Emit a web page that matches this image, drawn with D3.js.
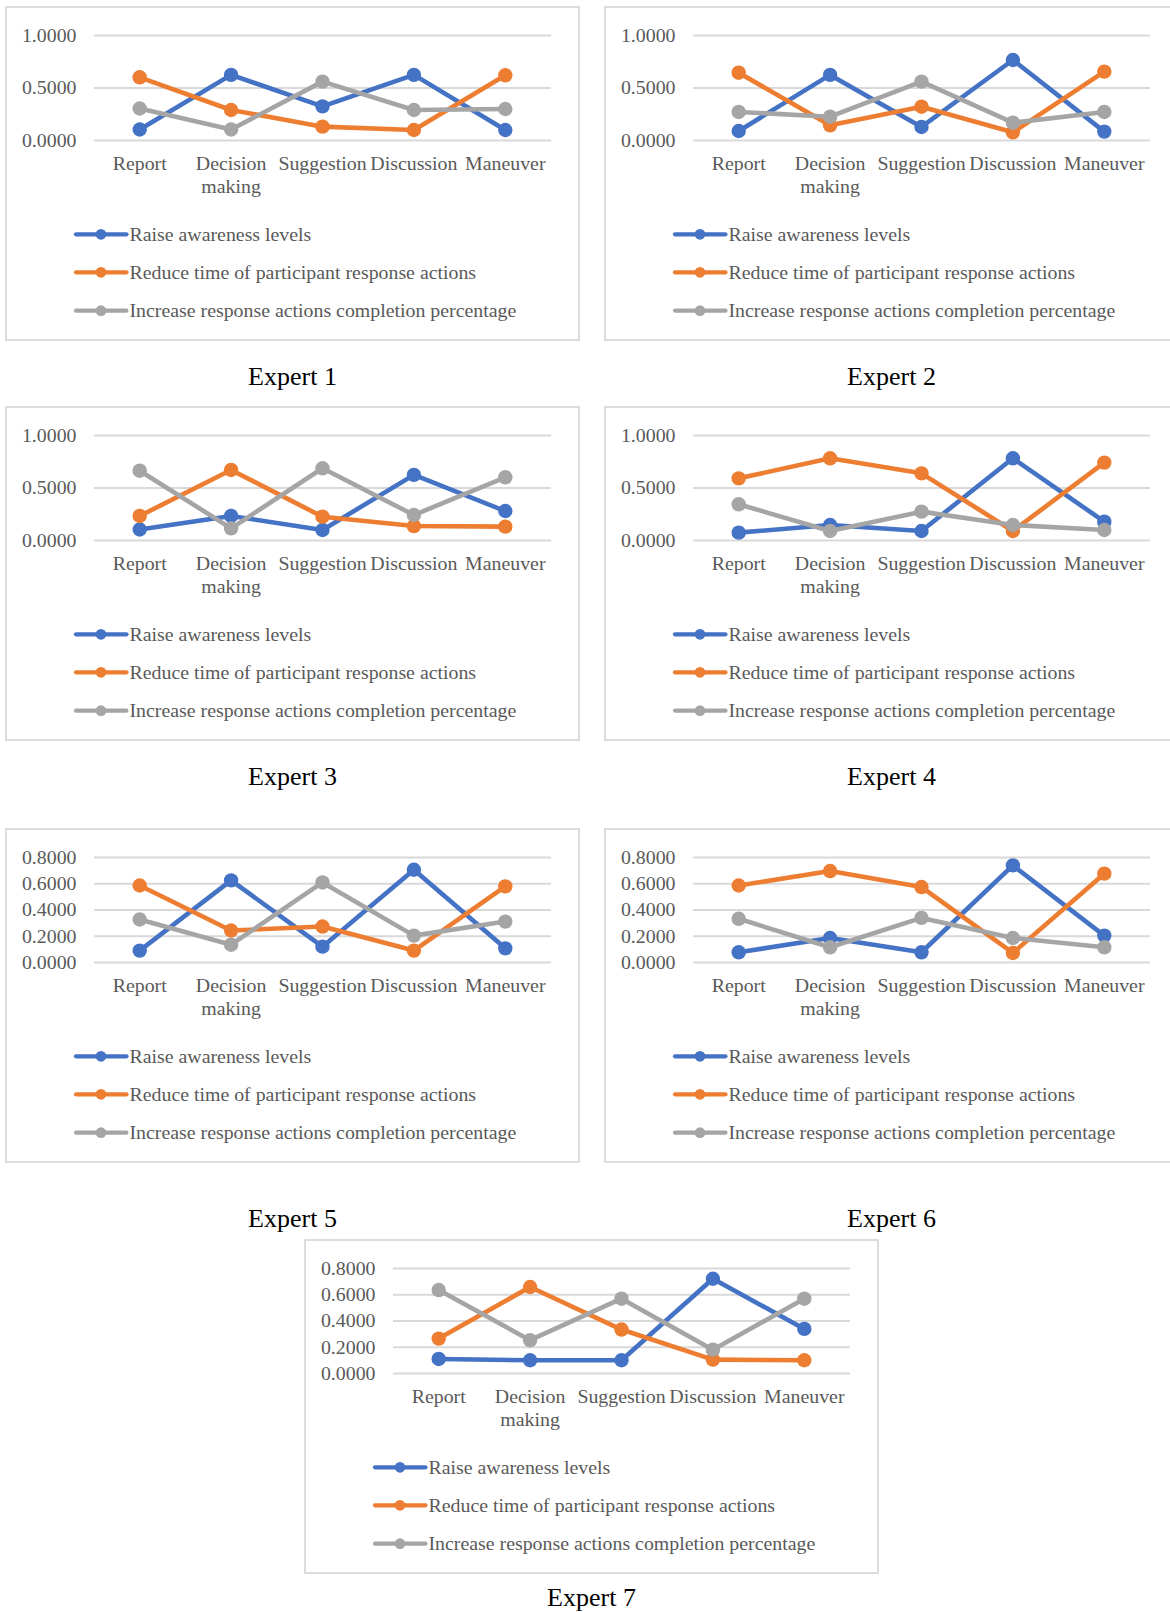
<!DOCTYPE html>
<html>
<head>
<meta charset="utf-8">
<script src="https://cdn.jsdelivr.net/npm/d3@7"></script>
<style>
  body { margin: 0; background: #fff; }
  svg { display: block; }
  text { font-family: "Liberation Serif", "Times New Roman", serif; }
</style>
</head>
<body>
<svg id="chart" width="1170" height="1612"></svg>
<script>
// Stage categories along the x axis
const categories = ["Report", "Decision making", "Suggestion", "Discussion", "Maneuver"];

// The three goals, in drawing order
const seriesNames = [
  "Raise awareness levels",
  "Reduce time of participant response actions",
  "Increase response actions completion percentage"
];
const seriesColors = ["#4472C4", "#ED7D31", "#A5A5A5"];

// Weights per expert: rows follow seriesNames, columns follow categories
const expert1 = [
  [0.100, 0.620, 0.320, 0.620, 0.095],
  [0.597, 0.286, 0.127, 0.095, 0.616],
  [0.300, 0.100, 0.556, 0.286, 0.295]
];
const expert2 = [
  [0.086, 0.620, 0.124, 0.762, 0.080],
  [0.641, 0.140, 0.317, 0.073, 0.651],
  [0.267, 0.222, 0.556, 0.165, 0.267]
];
const expert3 = [
  [0.100, 0.229, 0.095, 0.620, 0.276],
  [0.229, 0.667, 0.222, 0.133, 0.127],
  [0.660, 0.111, 0.683, 0.238, 0.597]
];
const expert4 = [
  [0.070, 0.143, 0.086, 0.778, 0.175],
  [0.587, 0.778, 0.635, 0.086, 0.737],
  [0.340, 0.086, 0.270, 0.143, 0.095]
];
const expert5 = [
  [0.087, 0.622, 0.117, 0.703, 0.104],
  [0.583, 0.240, 0.270, 0.087, 0.576],
  [0.324, 0.132, 0.606, 0.201, 0.308]
];
const expert6 = [
  [0.074, 0.183, 0.074, 0.736, 0.201],
  [0.583, 0.693, 0.571, 0.069, 0.673],
  [0.329, 0.112, 0.336, 0.183, 0.112]
];
const expert7 = [
  [0.107, 0.097, 0.097, 0.718, 0.336],
  [0.262, 0.655, 0.331, 0.102, 0.097],
  [0.632, 0.250, 0.566, 0.178, 0.566]
];

// Y tick values for the two axis scales in use
const ticksToOne = [0, 0.5, 1];
const ticksToEight = [0, 0.2, 0.4, 0.6, 0.8];

const panelTitles = ["Expert 1", "Expert 2", "Expert 3", "Expert 4", "Expert 5", "Expert 6", "Expert 7"];
const panelData = [expert1, expert2, expert3, expert4, expert5, expert6, expert7];
const panelTicks = [ticksToOne, ticksToOne, ticksToOne, ticksToOne, ticksToEight, ticksToEight, ticksToEight];

// Placement of each chart frame on the page
const layout = [
  { left: 6,   top: 7,    titleY: 378 },
  { left: 605, top: 7,    titleY: 378 },
  { left: 6,   top: 407,  titleY: 378 },
  { left: 605, top: 407,  titleY: 378 },
  { left: 6,   top: 829,  titleY: 398 },
  { left: 605, top: 829,  titleY: 398 },
  { left: 305, top: 1240, titleY: 365.5 }
];

const FRAME_W = 573, FRAME_H = 333;
const PLOT_L = 88, PLOT_R = 545, PLOT_T = 28, PLOT_B = 133;
const LABEL_GRAY = "#595959";
const GRID = "#d9d9d9";
const FONT = 19.85;

const svg = d3.select("#chart");
svg.append("rect").attr("width", 1170).attr("height", 1612).attr("fill", "#fff");

panelData.forEach((data, p) => {
  const pos = layout[p];
  const ticks = panelTicks[p];
  const g = svg.append("g").attr("transform", `translate(${pos.left},${pos.top})`);

  // chart frame
  g.append("rect")
    .attr("x", 0).attr("y", 0)
    .attr("width", FRAME_W).attr("height", FRAME_H)
    .attr("fill", "none").attr("stroke", GRID).attr("stroke-width", 1.8);

  const x = d3.scaleBand().domain(categories).range([PLOT_L, PLOT_R]);
  const y = d3.scaleLinear().domain([0, d3.max(ticks)]).range([PLOT_B, PLOT_T]);
  const cx = c => x(c) + x.bandwidth() / 2;

  // gridlines and value labels
  const yAxis = g.append("g")
    .attr("transform", `translate(${PLOT_L},0)`)
    .call(d3.axisLeft(y)
      .tickValues(ticks)
      .tickSize(-(PLOT_R - PLOT_L))
      .tickPadding(17.5)
      .tickFormat(d3.format(".4f")));
  yAxis.select(".domain").remove();
  yAxis.selectAll(".tick line").attr("stroke", GRID).attr("stroke-width", 2);
  yAxis.selectAll(".tick text")
    .attr("fill", LABEL_GRAY)
    .attr("font-size", FONT)
    .style("font-family", '"Liberation Serif", "Times New Roman", serif');

  // category labels, wrapped onto separate lines per word
  const xLab = g.append("g");
  categories.forEach(c => {
    const t = xLab.append("text")
      .attr("x", cx(c)).attr("y", 162.5)
      .attr("text-anchor", "middle")
      .attr("fill", LABEL_GRAY)
      .attr("font-size", FONT);
    c.split(" ").forEach((w, i) => {
      t.append("tspan").attr("x", cx(c)).attr("dy", i === 0 ? 0 : 23.5).text(w);
    });
  });

  // series lines with round markers
  const line = d3.line().x((d, i) => cx(categories[i])).y(d => y(d));
  data.forEach((vals, s) => {
    const sg = g.append("g");
    sg.append("path")
      .attr("d", line(vals))
      .attr("fill", "none")
      .attr("stroke", seriesColors[s])
      .attr("stroke-width", 4.6)
      .attr("stroke-linejoin", "round");
    sg.selectAll("circle").data(vals).join("circle")
      .attr("cx", (d, i) => cx(categories[i]))
      .attr("cy", d => y(d))
      .attr("r", 7.2)
      .attr("fill", seriesColors[s]);
  });

  // legend
  const legendRows = [227.3, 265.3, 303.7];
  seriesNames.forEach((name, s) => {
    const lg = g.append("g").attr("transform", `translate(0,${legendRows[s]})`);
    lg.append("line")
      .attr("x1", 70).attr("x2", 120.5)
      .attr("stroke", seriesColors[s]).attr("stroke-width", 4.2)
      .attr("stroke-linecap", "round");
    lg.append("circle").attr("cx", 95).attr("r", 5.4).attr("fill", seriesColors[s]);
    lg.append("text")
      .attr("x", 123.5).attr("dy", "0.32em")
      .attr("fill", LABEL_GRAY)
      .attr("font-size", FONT)
      .text(name);
  });

  // panel caption
  g.append("text")
    .attr("x", FRAME_W / 2).attr("y", pos.titleY)
    .attr("text-anchor", "middle")
    .attr("fill", "#000")
    .attr("font-size", 26)
    .text(panelTitles[p]);
});
</script>
</body>
</html>
